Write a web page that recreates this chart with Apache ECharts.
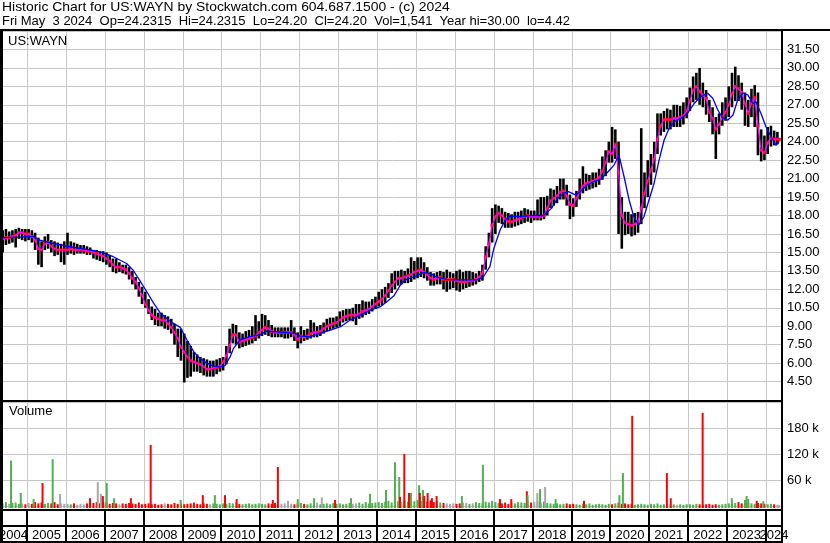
<!DOCTYPE html>
<html><head><meta charset="utf-8">
<script src="https://cdn.jsdelivr.net/npm/echarts@6/dist/echarts.min.js"></script>
<style>html,body{margin:0;padding:0;background:#fff}#c{width:830px;height:543px}</style>
</head><body><div id="c"></div>
<script>
// ---------- texts ----------
const titleLine1 = 'Historic Chart for US:WAYN by Stockwatch.com 604.687.1500 - (c) 2024';
const titleLine2 = 'Fri May  3 2024  Op=24.2315  Hi=24.2315  Lo=24.20  Cl=24.20  Vol=1,541  Year hi=30.00  lo=4.42';
const symbolLabel = 'US:WAYN';
const volumeLabel = 'Volume';

// ---------- time range ----------
const axisStart = 2004.383, axisEnd = 2024.41;
const firstYear = 2004, firstMonth = 5;      // monthly data starts May 2004
const lastTradeDate = 2024.337;              // May 3 2024
const bandYears = [2004,2005,2006,2007,2008,2009,2010,2011,2012,2013,2014,2015,2016,2017,2018,2019,2020,2021,2022,2023,2024];

// ---------- monthly price data (short MA / close level, high, low) ----------
const closeVals = [
 16.1,16.2,16.2,16.3,16.4,16.6,16.6,16.5,
 16.5,16.3,16.0,15.3,15.2,15.7,15.8,15.5,15.3,15.2,15.2,15.2,
 15.2,15.3,15.2,15.2,15.2,15.2,15.1,15.1,15.0,14.9,14.8,14.7,
 14.5,14.3,14.0,13.8,13.8,13.7,13.6,13.3,12.9,12.6,12.1,11.5,
 10.8,10.3,9.9,9.7,9.6,9.5,9.5,9.2,8.9,8.5,8.0,7.3,
 6.9,6.5,6.2,6.1,6.0,5.9,5.7,5.5,5.5,5.6,5.65,5.7,
 6.1,6.6,7.4,8.3,8.3,7.7,7.8,7.9,8.0,8.1,8.2,8.5,
 8.7,8.9,8.8,8.6,8.5,8.5,8.5,8.5,8.5,8.5,8.3,7.9,
 8.2,8.1,8.2,8.4,8.5,8.5,8.6,8.8,9.0,9.1,9.2,9.3,
 9.5,9.7,9.8,9.9,9.9,9.9,10.0,10.2,10.3,10.4,10.6,10.8,
 11.0,11.2,11.5,11.9,12.3,12.6,12.9,12.9,13.0,13.1,13.2,13.4,
 13.5,13.6,13.4,13.2,12.9,12.8,12.9,13.0,12.8,12.8,12.8,12.8,
 12.7,12.6,12.6,12.6,12.7,12.7,12.8,13.0,13.3,14.6,15.7,17.2,
 17.9,18.2,18.0,17.7,17.5,17.5,17.6,17.7,17.8,17.9,18.0,17.9,
 17.9,17.9,17.9,18.0,18.6,19.2,19.4,19.6,19.9,20.0,19.6,18.9,
 18.8,19.4,19.9,20.4,20.6,20.7,20.8,20.9,21.1,21.6,22.3,23.2,
 23.0,23.8,21.5,18.0,17.4,17.3,17.2,17.3,17.5,18.6,19.8,20.8,
 21.7,22.6,24.2,25.3,25.8,25.8,25.8,25.9,25.9,26.0,26.1,26.5,
 27.3,28.2,28.5,28.1,27.8,27.5,26.4,25.9,25.0,25.4,26.0,26.4,
 27.0,27.9,28.5,28.3,28.0,27.1,26.3,27.1,27.6,25.3,23.3,23.1,
 23.9,24.3,24.2,24.2,24.2
];
const highVals = [
 16.8,16.9,16.7,16.8,16.9,17.0,16.9,16.9,
 16.9,16.8,16.6,16.2,15.9,16.3,16.5,16.0,15.9,15.8,15.7,15.9,
 16.6,15.9,15.8,15.7,15.6,15.6,15.5,15.4,15.2,15.2,15.1,15.1,
 15.0,14.8,14.5,14.5,14.2,14.0,14.0,13.8,13.5,13.0,12.6,12.2,
 11.8,11.2,10.6,10.4,10.1,10.1,9.9,9.8,9.6,9.2,8.8,8.8,
 8.4,7.8,7.4,6.9,6.7,6.5,6.4,6.3,6.2,6.2,6.3,6.4,
 6.5,7.4,8.8,9.2,9.1,8.5,8.4,8.6,8.7,9.0,9.9,9.4,
 10.0,9.9,9.5,9.1,8.9,8.9,8.9,8.9,8.9,9.5,8.9,8.5,
 9.0,8.7,8.8,9.5,9.3,9.0,9.1,9.3,9.6,9.7,9.7,9.8,
 10.2,10.3,10.4,10.4,10.5,10.8,10.8,11.1,11.0,11.0,11.2,11.4,
 11.8,12.0,12.2,12.5,13.3,13.5,13.5,13.6,13.5,13.7,14.6,14.3,
 14.6,14.6,14.2,13.8,13.4,13.3,13.4,13.5,13.4,13.6,13.4,13.3,
 13.5,13.6,13.4,13.5,13.5,13.4,13.3,13.5,14.0,15.5,16.6,18.6,
 18.9,18.8,18.6,18.3,18.2,18.1,18.3,18.3,18.4,18.6,18.5,18.4,
 18.4,19.3,19.5,19.5,19.6,20.2,20.1,20.4,21.0,21.0,20.5,19.7,
 19.4,20.0,21.0,22.0,21.4,21.3,21.5,21.5,21.8,22.8,23.3,24.0,
 25.2,25.0,24.0,19.5,18.3,18.3,18.1,18.2,18.3,25.1,21.5,22.5,
 23.0,24.0,26.3,26.3,26.5,26.7,26.6,27.0,27.0,26.9,27.2,27.6,
 28.4,29.3,29.6,30.0,28.8,28.2,27.4,26.8,26.0,26.3,27.2,27.6,
 28.5,29.6,30.1,29.4,28.8,28.0,27.4,28.3,28.6,28.0,25.0,24.5,
 25.2,25.3,24.9,24.8,24.3
];
const lowVals = [
 15.0,15.6,15.7,15.8,15.4,16.1,16.0,15.9,
 16.0,15.8,15.2,14.0,13.8,15.2,15.3,15.0,14.7,14.8,14.2,14.0,
 14.8,14.9,14.8,14.9,14.9,14.9,14.8,14.8,14.5,14.4,14.3,14.2,
 14.0,13.8,13.4,13.3,13.4,13.3,13.2,12.8,12.4,12.0,11.4,10.8,
 10.5,10.0,9.5,9.1,9.0,9.0,8.8,8.7,8.4,7.5,6.5,6.2,
 4.42,4.8,4.9,5.3,5.3,5.2,5.0,4.9,4.9,4.9,5.1,5.3,
 5.4,5.9,6.8,7.6,7.5,7.2,7.3,7.4,7.5,7.6,7.8,8.0,
 8.2,8.3,8.2,8.1,8.1,8.1,8.1,8.0,8.0,8.1,7.8,7.2,
 7.6,7.8,7.9,8.0,8.1,8.1,8.2,8.4,8.6,8.7,8.8,8.9,
 9.0,9.3,9.4,9.5,9.4,9.1,9.6,9.7,9.9,10.0,10.2,10.4,
 10.6,10.7,10.9,11.3,11.7,12.0,12.3,12.4,12.5,12.5,12.6,12.8,
 12.9,13.0,12.9,12.7,12.3,12.3,12.4,12.4,12.0,11.8,12.0,12.1,
 11.9,11.8,12.0,12.1,12.2,12.3,12.4,12.6,12.7,13.6,14.6,15.8,
 16.5,17.4,17.3,17.0,17.0,17.0,17.1,17.2,17.3,17.4,17.5,17.4,
 17.6,17.6,17.6,17.7,18.0,18.6,18.8,19.0,19.3,19.3,18.8,17.7,
 17.9,18.7,19.3,19.8,20.0,20.1,20.2,20.3,20.5,20.9,21.2,22.3,
 22.3,22.6,16.5,15.3,16.4,16.5,16.3,16.4,16.6,17.3,18.6,19.5,
 20.5,21.5,23.0,24.5,24.8,25.0,25.0,25.2,25.2,25.2,25.4,25.9,
 26.5,27.2,27.4,27.0,26.8,26.2,25.6,24.6,22.6,24.6,25.3,25.7,
 26.0,26.8,27.3,27.3,26.6,25.3,25.2,26.0,25.2,22.9,22.4,22.5,
 23.0,23.6,23.7,23.8,24.1
];

// ---------- long moving average (blue) ----------
const blueDates = [2004.38,2004.82,2005.16,2005.33,2005.59,2006.02,2006.53,2006.88,2007.22,2007.56,2007.73,2007.9,
 2008.08,2008.25,2008.42,2008.68,2008.94,2009.11,2009.28,2009.45,2009.62,2009.79,2009.96,2010.09,2010.22,2010.31,
 2010.48,2010.73,2010.99,2011.16,2011.42,2011.68,2011.89,2012.02,2012.28,2012.54,2012.8,2013.06,2013.31,2013.57,
 2013.83,2014.09,2014.26,2014.44,2014.6,2014.72,2014.93,2015.19,2015.36,2015.53,2015.79,2016.05,2016.39,2016.56,
 2016.73,2016.9,2017.0,2017.16,2017.29,2017.42,2017.68,2017.94,2018.28,2018.49,2018.62,2018.79,2018.92,2019.1,
 2019.23,2019.4,2019.57,2019.75,2019.92,2020.09,2020.22,2020.35,2020.48,2020.6,2020.73,2020.86,2020.99,2021.12,
 2021.25,2021.38,2021.51,2021.64,2021.81,2021.98,2022.15,2022.32,2022.5,2022.63,2022.76,2022.89,2023.02,2023.15,
 2023.27,2023.4,2023.53,2023.66,2023.74,2023.87,2024.0,2024.13,2024.26,2024.337];
const blueValues = [16.2,16.25,16.3,16.0,15.8,15.5,15.25,15.05,14.65,14.1,13.55,12.7,
 11.8,10.9,10.1,9.4,8.9,7.9,6.95,6.35,6.0,5.75,5.68,5.8,6.5,7.2,
 7.9,8.15,8.3,8.6,8.55,8.47,8.42,8.2,8.15,8.42,8.69,8.96,9.5,9.9,
 10.3,10.6,11.0,11.5,12.35,12.76,13.0,13.35,13.3,13.0,12.8,12.76,12.76,12.76,
 13.0,13.84,15.3,16.8,17.6,17.95,17.9,18.0,18.0,18.6,19.3,19.8,19.94,19.67,
 19.94,20.48,20.75,20.95,21.5,22.1,22.9,21.15,19.26,17.9,17.23,17.9,19.26,20.6,
 22.5,24.14,25.09,25.63,25.9,26.3,27.1,27.66,27.94,27.53,26.58,25.9,25.76,26.17,
 27.39,27.94,27.8,27.12,27.25,26.3,25.2,24.4,23.7,24.0];

// ---------- volume (thousands of shares) ----------
const volBase = [
 6,9,5,7,8,5,6,4,
 7,5,9,6,8,5,7,6,9,4,6,5,
 5,4,6,3,5,4,6,8,7,9,6,10,
 8,5,7,6,4,6,5,7,6,5,8,4,
 5,6,4,5,3,4,6,5,4,7,5,6,
 4,5,6,8,5,4,6,5,4,6,5,4,
 6,5,7,6,9,5,4,5,6,4,5,6,
 5,4,6,5,7,4,5,6,8,5,4,6,
 7,5,4,6,5,8,4,5,6,4,7,5,
 6,4,5,7,5,6,8,5,9,6,7,8,
 9,7,10,12,8,14,11,9,13,10,12,11,
 14,12,16,10,13,9,11,8,7,6,5,6,
 5,6,8,7,5,6,9,7,6,10,8,12,
 9,7,6,8,5,7,6,9,8,7,10,8,
 9,11,8,10,7,6,5,6,4,5,6,4,
 5,4,3,5,4,6,3,4,5,4,3,5,
 4,6,8,5,6,4,5,3,4,5,4,3,
 5,4,6,3,4,5,3,4,3,4,3,4,
 4,3,5,4,3,4,5,3,4,3,4,5,
 6,8,7,9,6,7,8,6,5,7,6,5,
 4,5,4,3,2
];
const spikeDates = [2004.59,2004.84,2005.17,2005.40,2005.66,2005.85,2006.62,2006.82,2006.90,2006.95,2007.05,2007.24,
 2007.67,2008.18,2008.95,2009.52,2009.83,2010.09,2010.39,2011.32,2011.45,2011.71,2011.96,2012.38,2012.58,2012.92,
 2013.33,2013.82,2014.23,2014.46,2014.57,2014.59,2014.70,2014.82,2014.87,2015.08,2015.10,2015.18,2015.21,2015.30,
 2015.41,2015.53,2016.18,2016.72,2017.16,2017.45,2017.85,2017.87,2018.12,2018.19,2018.32,2018.59,2019.32,2020.23,
 2020.32,2020.56,2021.45,2021.55,2022.37,2023.12,2023.46,2023.50,2023.54,2023.76,2023.93];
const spikeVols = [105,30,16,53,108,28,18,55,28,23,53,18,
 18,141,14,25,25,25,16,14,90,12,16,18,20,14,
 18,28,37,101,67,21,120,30,30,48,30,37,23,30,
 18,23,23,95,16,16,34,25,30,39,44,16,12,25,
 76,208,76,18,215,18,14,23,16,12,11];
const spikeDirs = ['u','u','u','d','u','n','d','n','n','d','u','u',
 'd','d','u','d','u','d','d','d','d','n','u','u','n','d',
 'u','u','u','u','u','d','d','d','u','u','d','u','d','d',
 'd','d','u','u','d','d','d','u','n','u','n','u','d','u',
 'u','d','d','d','d','u','u','u','u','d','u'];

// ---------- build ----------
const monthDate = i => Math.min(firstYear + (firstMonth - 1 + i + 0.5) / 12, lastTradeDate);
const priceData = closeVals.map((c, i) => [monthDate(i), highVals[i], lowVals[i], c]);
const magentaData = closeVals.map((c, i) => [monthDate(i), c]);
const blueData = blueDates.map((d, i) => [d, blueValues[i]]);
const dirColor = {u: '#4fb04f', d: '#ff0000', n: '#a8a8a8'};
const volData = volBase.map((v, i) => {
  const prev = i > 0 ? closeVals[i - 1] : closeVals[0];
  const dir = closeVals[i] > prev ? 'u' : (closeVals[i] < prev ? 'd' : 'n');
  return [monthDate(i), v * 1000, dir];
}).concat(spikeDates.map((d, i) => [d, spikeVols[i] * 1000, spikeDirs[i]]));
const yearLines = bandYears.filter(y => y > axisStart).map(y => [y, 0]);

const FONT = '"Liberation Sans", Arial, sans-serif';
const GRID_L = 3, GRID_R = 48;

function vLineItem(params, api) {
  const cs = params.coordSys;
  const x = Math.round(api.coord([api.value(0), api.value(1)])[0]) + 0.5;
  return {type: 'line', shape: {x1: x, y1: cs.y, x2: x, y2: cs.y + cs.height},
          style: {stroke: '#c8c8c8', lineWidth: 1}};
}
function barItem(params, api) {
  const t = api.value(0);
  const ph = api.coord([t, api.value(1)]), pl = api.coord([t, api.value(2)]), pc = api.coord([t, api.value(3)]);
  const w = api.size([1 / 12, 0])[0] * 0.8;
  return {type: 'group', children: [
    {type: 'rect', shape: {x: ph[0] - w / 2, y: ph[1], width: w, height: Math.max(1, pl[1] - ph[1])}, style: {fill: '#000'}},
    {type: 'rect', shape: {x: pc[0] - 1.5, y: pc[1] - 1.5, width: 3, height: 3}, style: {fill: '#ff0000'}}
  ]};
}
function volItem(params, api) {
  const t = api.value(0);
  const p0 = api.coord([t, 0]), p1 = api.coord([t, api.value(1)]);
  const dir = volData[params.dataIndex][2];
  return {type: 'rect', shape: {x: p0[0] - 1, y: p1[1], width: 2, height: p0[1] - p1[1] + 2},
          style: {fill: dirColor[dir]}};
}
function bandItem(params, api) {
  const cs = params.coordSys;
  const yr = api.value(0);
  const x0 = api.coord([yr, 0.5])[0], x1 = api.coord([yr + 1, 0.5])[0];
  const L = Math.max(x0, cs.x - 3), R = Math.min(x1, cs.x + cs.width);
  const ch = [];
  if (x0 > cs.x + 1) ch.push({type: 'rect', shape: {x: Math.round(x0) - 1, y: cs.y, width: 2, height: cs.height}, style: {fill: '#000'}});
  ch.push({type: 'text', style: {text: String(yr), x: (L + R) / 2, y: cs.y + 24, align: 'center', verticalAlign: 'middle',
           font: '13px ' + FONT, fill: '#000'}});
  return {type: 'group', children: ch};
}

const chart = echarts.init(document.getElementById('c'), null, {renderer: 'canvas'});
const xAx = i => ({type: 'value', gridIndex: i, min: axisStart, max: axisEnd, show: false});
chart.setOption({
  animation: false,
  backgroundColor: '#fff',
  grid: [
    {left: GRID_L, right: GRID_R, top: 31, height: 369},
    {left: GRID_L, right: GRID_R, top: 402, height: 104},
    {left: GRID_L, right: GRID_R, top: 511, height: 31}
  ],
  xAxis: [xAx(0), xAx(1), xAx(2)],
  yAxis: [
    {type: 'value', gridIndex: 0, position: 'right', min: 3, max: 33, interval: 1.5,
     axisLine: {show: true, lineStyle: {color: '#000', width: 2}}, axisTick: {show: false},
     splitLine: {show: true, lineStyle: {color: '#c4c4c4', width: 1}},
     axisLabel: {showMinLabel: false, showMaxLabel: false, margin: 5, color: '#000', fontSize: 13, fontFamily: FONT,
                 formatter: v => v.toFixed(2)}},
    {type: 'value', gridIndex: 1, position: 'right', min: 0, max: 240000, interval: 60000,
     axisLine: {show: true, lineStyle: {color: '#000', width: 2}}, axisTick: {show: false},
     splitLine: {show: true, lineStyle: {color: '#c4c4c4', width: 1}},
     axisLabel: {showMinLabel: false, showMaxLabel: false, margin: 5, color: '#000', fontSize: 13, fontFamily: FONT,
                 formatter: v => (v / 1000) + ' k'}},
    {type: 'value', gridIndex: 2, min: 0, max: 1, show: false}
  ],
  series: [
    {type: 'custom', xAxisIndex: 0, yAxisIndex: 0, z: 1, silent: true, data: yearLines.map(d => [d[0], 10]), renderItem: vLineItem},
    {type: 'custom', xAxisIndex: 1, yAxisIndex: 1, z: 1, silent: true, data: yearLines, renderItem: vLineItem},
    {type: 'custom', name: 'price', xAxisIndex: 0, yAxisIndex: 0, z: 3, data: priceData, renderItem: barItem},
    {type: 'line', name: 'short MA', xAxisIndex: 0, yAxisIndex: 0, z: 4, data: magentaData, showSymbol: false,
     lineStyle: {color: '#ff00ff', width: 1.3}},
    {type: 'line', name: 'long MA', xAxisIndex: 0, yAxisIndex: 0, z: 5, data: blueData, showSymbol: false,
     lineStyle: {color: '#0000ff', width: 1.3}},
    {type: 'custom', name: 'volume', xAxisIndex: 1, yAxisIndex: 1, z: 3, data: volData.map(d => [d[0], d[1]]), renderItem: volItem},
    {type: 'custom', xAxisIndex: 2, yAxisIndex: 2, z: 3, data: bandYears.map(y => [y, 0.5]), renderItem: bandItem}
  ],
  graphic: [
    {type: 'text', x: 2, y: 1, scaleX: 1.07, z: 100, style: {text: titleLine1, font: '13px ' + FONT, fill: '#000'}},
    {type: 'text', x: 2, y: 15, z: 100, style: {text: titleLine2, font: '13px ' + FONT, fill: '#000'}},
    {type: 'text', x: 8, y: 35, z: 100, style: {text: symbolLabel, font: '13px ' + FONT, fill: '#000'}},
    {type: 'text', x: 9, y: 405, z: 100, style: {text: volumeLabel, font: '13px ' + FONT, fill: '#000'}},
    {type: 'rect', z: 100, shape: {x: 0, y: 29, width: 830, height: 2}, style: {fill: '#000'}},
    {type: 'rect', z: 100, shape: {x: 0, y: 29, width: 3, height: 514}, style: {fill: '#000'}},
    {type: 'rect', z: 100, shape: {x: 0, y: 400, width: 783, height: 2}, style: {fill: '#000'}},
    {type: 'rect', z: 100, shape: {x: 0, y: 509, width: 783, height: 2}, style: {fill: '#000'}},
    {type: 'rect', z: 100, shape: {x: 0, y: 525, width: 783, height: 2}, style: {fill: '#000'}},
    {type: 'rect', z: 100, shape: {x: 0, y: 541, width: 783, height: 2}, style: {fill: '#000'}},
    {type: 'rect', z: 100, shape: {x: 781, y: 29, width: 2, height: 514}, style: {fill: '#000'}}
  ]
});
</script></body></html>
